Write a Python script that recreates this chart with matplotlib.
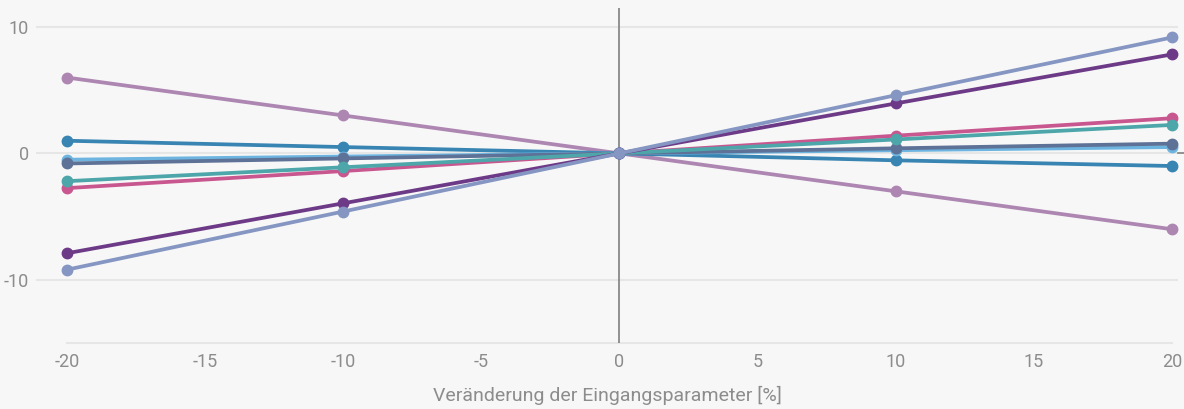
import matplotlib.pyplot as plt

plt.rcParams['font.family'] = ['Roboto', 'DejaVu Sans']

x_vals = [-20, -10, 0, 10, 20]

series = {
    'a': [6.0, 3.0, 0, -3.0, -6.0],
    'b': [1.0, 0.5, 0, -0.55, -1.0],
    'c': [-0.5, -0.25, 0, 0.25, 0.5],
    'd': [-0.8, -0.4, 0, 0.4, 0.77],
    'e': [-2.75, -1.4, 0, 1.4, 2.78],
    'f': [-2.2, -1.1, 0, 1.1, 2.25],
    'g': [-7.9, -3.95, 0, 3.95, 7.83],
    'h': [-9.2, -4.6, 0, 4.6, 9.17],
}
colors = {
    'a': '#ad86b2',
    'b': '#3884b2',
    'c': '#6db5e0',
    'd': '#5e7196',
    'e': '#c9578f',
    'f': '#4da6aa',
    'g': '#6d3a87',
    'h': '#8596c3',
}
x_ticks = [-20, -15, -10, -5, 0, 5, 10, 15, 20]
y_ticks = [-10, 0, 10]

fig = plt.figure(figsize=(11.84, 4.09), dpi=100)
fig.patch.set_facecolor('#f7f7f7')
ax = fig.add_axes([36 / 1184, 1 - 343 / 409, (1178 - 36) / 1184, (343 - 8) / 409])
ax.set_facecolor('#f7f7f7')

for yt in y_ticks:
    ax.axhline(yt, color='#e6e6e6', lw=1.5, zorder=0)
ax.plot([-20, 20], [-15, -15], color='#e6e6e6', lw=1.5, zorder=0, clip_on=False)
ax.axvline(0, color='#808080', lw=1.2, zorder=1)

for key, vals in series.items():
    ax.plot(x_vals, vals, color=colors[key], lw=2.7, marker='o', markersize=7.5,
            solid_capstyle='round', zorder=3)

ax.set_xlim(-21.12, 20.22)
ax.set_ylim(-15, 11.5)
ax.set_xticks(x_ticks)
ax.set_xticklabels([str(t) for t in x_ticks])
ax.set_yticks(y_ticks)
ax.set_yticklabels([str(t) for t in y_ticks])
ax.tick_params(length=0, labelsize=13, labelcolor='#8c8c8c', pad=7)
ax.tick_params(axis='y', pad=5)
for s in ax.spines.values():
    s.set_visible(False)
ax.plot([1.0, 1.005], [15 / 26.5, 15 / 26.5], transform=ax.transAxes, color='#808080',
        lw=1.2, clip_on=False)

ax.set_xlabel('Veränderung der Eingangsparameter [%]', fontsize=14, color='#8c8c8c', labelpad=11)

fig.savefig('out.png', dpi=100, facecolor=fig.get_facecolor())
